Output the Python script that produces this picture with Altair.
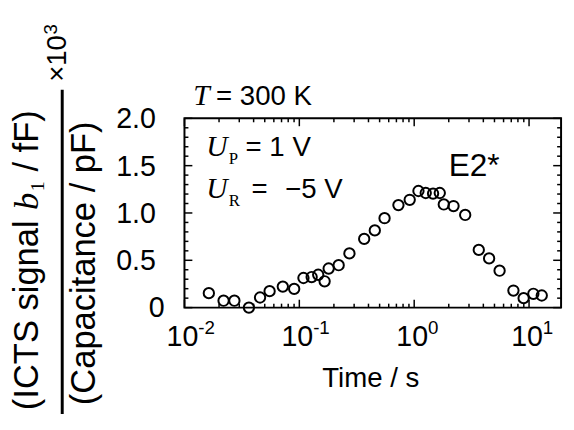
import altair as alt
import pandas as pd

# ---- data ----
time_s = [0.0163, 0.0219, 0.0272, 0.0364, 0.0455, 0.0551, 0.0718, 0.0902, 0.1086, 0.128,
          0.146, 0.166, 0.180, 0.220, 0.273, 0.367, 0.454, 0.552, 0.729, 0.914,
          1.089, 1.26, 1.46, 1.67, 1.81, 2.20, 2.78, 3.65, 4.49, 5.54,
          7.31, 8.97, 10.9, 12.9]
signal = [0.153, 0.073, 0.073, 0.0, 0.107, 0.174, 0.222, 0.198, 0.313, 0.323,
          0.347, 0.278, 0.413, 0.448, 0.573, 0.726, 0.816, 0.945, 1.083, 1.139,
          1.232, 1.211, 1.205, 1.211, 1.09, 1.073, 0.979, 0.61, 0.52, 0.39,
          0.18, 0.10, 0.146, 0.128]

x_major = [0.01, 0.1, 1, 10]
x_minor = [0.02, 0.03, 0.04, 0.05, 0.06, 0.07, 0.08, 0.09,
           0.2, 0.3, 0.4, 0.5, 0.6, 0.7, 0.8, 0.9,
           2, 3, 4, 5, 6, 7, 8, 9]
x_label_base = ["10", "10", "10", "10"]
x_label_exp = ["-2", "-1", "0", "1"]
y_major = [0.5, 1.0, 1.5, 2.0]
y_major_labels = ["0.5", "1.0", "1.5", "2.0"]
y_zero = [0.0]
y_zero_label = ["0"]
y_minor = [0.1, 0.2, 0.3, 0.4, 0.6, 0.7, 0.8, 0.9, 1.1, 1.2, 1.3, 1.4,
           1.6, 1.7, 1.8, 1.9]

W, H = 382, 192
SANS = "Liberation Sans"
SERIF = "Liberation Serif"

XS = alt.Scale(type="log", domain=[0.01, 19], nice=False)
YS = alt.Scale(domain=[0, 2], nice=False)


def X(f="t"):
    return alt.X(f"{f}:Q", scale=XS, axis=None)


def Y(f="v"):
    return alt.Y(f"{f}:Q", scale=YS, axis=None)


df = pd.DataFrame({"t": time_s, "v": signal})
one = pd.DataFrame({"k": [0]})

points = alt.Chart(df).mark_point(shape="circle", filled=False, size=110,
                                  strokeWidth=2, color="black", opacity=1).encode(x=X(), y=Y())

xmaj = pd.DataFrame({"t": x_major, "base": x_label_base, "exp": x_label_exp})
xmin = pd.DataFrame({"t": x_minor})
ymaj = pd.DataFrame({"v": y_major + y_zero})
ymin = pd.DataFrame({"v": y_minor})


def xticks(data, L):
    b = alt.Chart(data).mark_rule(color="black", strokeWidth=1.5).encode(
        x=X(), y=alt.value(H), y2=alt.value(H - L))
    t = alt.Chart(data).mark_rule(color="black", strokeWidth=1.5).encode(
        x=X(), y=alt.value(0), y2=alt.value(L))
    return [b, t]


def yticks(data, L):
    l = alt.Chart(data).mark_rule(color="black", strokeWidth=1.5).encode(
        y=Y(), x=alt.value(0), x2=alt.value(L))
    r = alt.Chart(data).mark_rule(color="black", strokeWidth=1.5).encode(
        y=Y(), x=alt.value(W), x2=alt.value(W - L))
    return [l, r]


ticks = xticks(xmaj, 8) + xticks(xmin, 4) + yticks(ymaj, 8) + yticks(ymin, 4)

xl_base = alt.Chart(xmaj).mark_text(font=SANS, fontSize=29, align="center",
                                    baseline="alphabetic", dx=-2, color="black").encode(
    x=X(), y=alt.value(231), text="base:N")
xl_exp = alt.Chart(xmaj).mark_text(font=SANS, fontSize=19, align="left",
                                   baseline="alphabetic", dx=14, color="black").encode(
    x=X(), y=alt.value(219), text="exp:N")

ylab = pd.DataFrame({"v": y_major, "lab": y_major_labels})
ylab0 = pd.DataFrame({"v": y_zero, "lab": y_zero_label})
yl = alt.Chart(ylab).mark_text(font=SANS, fontSize=29, align="right",
                               baseline="alphabetic", dy=10, color="black").encode(
    y=Y(), x=alt.value(-29), text="lab:N")
yl0 = alt.Chart(ylab0).mark_text(font=SANS, fontSize=29, align="right",
                                 baseline="alphabetic", dy=10, color="black").encode(
    y=Y(), x=alt.value(-20), text="lab:N")


def txt(s, x, y, font=SANS, size=28, style="normal", align="left", angle=0):
    return alt.Chart(one).mark_text(text=s, font=font, fontSize=size, fontStyle=style,
                                    align=align, baseline="alphabetic", angle=angle,
                                    color="black").encode(x=alt.value(x), y=alt.value(y))


annots = [
    txt("T", 9, -14, font=SERIF, size=30, style="italic"),
    txt("= 300 K", 32, -14),
    txt("U", 22, 38, font=SERIF, size=30, style="italic"),
    txt("P", 45, 46, font=SERIF, size=17),
    txt("= 1 V", 62, 38),
    txt("U", 22, 81, font=SERIF, size=30, style="italic"),
    txt("R", 45, 89, font=SERIF, size=17),
    txt("=", 68, 81),
    txt("\u22125 V", 102, 81),
    txt("E2*", 268, 58, size=32),
    txt("Time / s", 189, 273, align="center"),
]

# y-axis title: a fraction written vertically
ytitle = [
    txt("(ICTS signal", -149, 296, size=35, angle=270),
    txt("b", -149, 93, font=SERIF, size=35, style="italic", angle=270),
    txt("1", -142, 74, font=SERIF, size=20, angle=270),
    txt("/ fF)", -149, 54, size=35, angle=270),
    txt("(Capacitance / pF)", -91, 291, size=35, angle=270),
    txt("\u00d710", -120, -37, size=28, angle=270),
    txt("3", -129, -85, size=19, angle=270),
    alt.Chart(one).mark_rule(color="black", strokeWidth=3).encode(
        x=alt.value(-124), y=alt.value(-29), y2=alt.value(300)),
]

chart = alt.layer(points, *ticks, xl_base, xl_exp, yl, yl0, *annots, *ytitle).properties(
    width=W, height=H,
    autosize=alt.AutoSizeParams(type="none"),
    padding={"left": 179, "top": 109, "right": 5, "bottom": 105},
).configure_view(stroke="black", strokeWidth=2)

chart.save("out.html", embed_options={"renderer": "svg", "actions": False})
